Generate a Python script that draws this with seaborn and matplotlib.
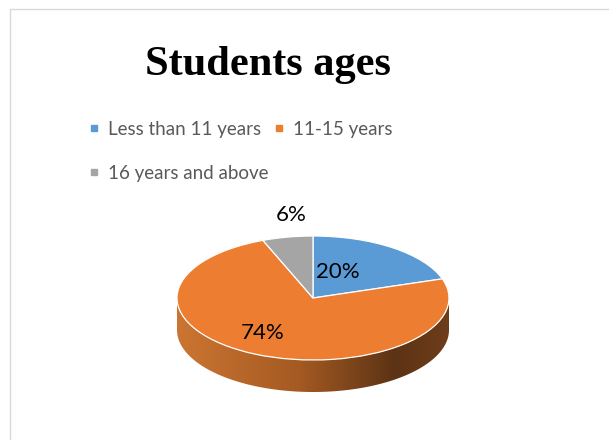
import numpy as np
import matplotlib
matplotlib.use("Agg")
import matplotlib.pyplot as plt
import seaborn as sns
from matplotlib.patches import Rectangle, Polygon
from matplotlib.lines import Line2D
from matplotlib.colors import LinearSegmentedColormap

# data
categories = ["Less than 11 years", "11-15 years", "16 years and above"]
shares = [20, 74, 6]
pct_labels = ["20%", "74%", "6%"]
colors = ["#5B9BD5", "#ED7D31", "#A5A5A5"]

sns.set_theme(style="white")
plt.rcParams["font.family"] = ["Lato", "DejaVu Sans"]

W, H = 609, 440
fig = plt.figure(figsize=(W / 100, H / 100), dpi=100)
fig.patch.set_facecolor("white")
ax = fig.add_axes([0, 0, 1, 1])

# pie geometry in pixels (ellipse look of the 3d pie)
cx, cy = 313, H - 298
rx, ry = 136, 62
depth = 32 / ry

# top face
wedges, _ = ax.pie(shares, colors=colors, startangle=90, counterclock=False,
                   radius=1, wedgeprops=dict(edgecolor="white", linewidth=0.9))
for w in wedges:
    w.set_zorder(3)

# side wall (front half of the rim), shaded left -> right
t = np.linspace(np.pi, 2 * np.pi, 200)
top = np.column_stack([np.cos(t), np.sin(t)])
bot = np.column_stack([np.cos(t[::-1]), np.sin(t[::-1]) - depth])
side = Polygon(np.vstack([top, bot]), closed=True, facecolor="none",
               edgecolor="none", zorder=1)
ax.add_patch(side)
side_cmap = LinearSegmentedColormap.from_list(
    "rim", [(0, "#cc7532"), (0.45, "#a45a22"), (0.8, "#5c3315"), (1, "#6e3d1a")])
grad = np.linspace(0, 1, 256).reshape(1, -1)
img = ax.imshow(grad, cmap=side_cmap, extent=[-1, 1, -1 - depth, 0],
                aspect="auto", zorder=1, interpolation="bilinear")
img.set_clip_path(side)

ax.set_aspect("auto")
ax.set_xlim(-cx / rx, (W - cx) / rx)
ax.set_ylim(-cy / ry, (H - cy) / ry)
ax.axis("off")

# percent labels
label_pos = [(0.18, 0.42), (-0.37, -0.57), (-0.16, 1.34)]
for txt, (lx, ly) in zip(pct_labels, label_pos):
    ax.text(lx, ly, txt, ha="center", va="center", fontsize=16,
            color="black", zorder=5)

# title
fig.text(268 / W, 1 - 75 / H, "Students ages", ha="center", va="baseline",
         fontsize=30.5, fontweight="bold", family="Liberation Serif",
         color="black")

# legend, ordered so rows read like the original
handles = [Line2D([], [], marker="s", linestyle="none", markersize=5,
                  color=c) for c in colors]
order = [0, 2, 1]
fig.legend([handles[i] for i in order], [categories[i] for i in order],
           loc="upper left", bbox_to_anchor=(71 / W, 1 - 104 / H), ncol=2,
           frameon=False, fontsize=13.5, labelcolor="#595959",
           handlelength=0.6, handletextpad=0.45, columnspacing=0.3,
           labelspacing=1.45)

# chart area border
fig.add_artist(Rectangle((9.5 / W, -0.2), 1.5, 1.2 - 9.5 / H,
                         transform=fig.transFigure, fill=False,
                         edgecolor="#d9d9d9", linewidth=1))

fig.savefig("out.png", dpi=100)
